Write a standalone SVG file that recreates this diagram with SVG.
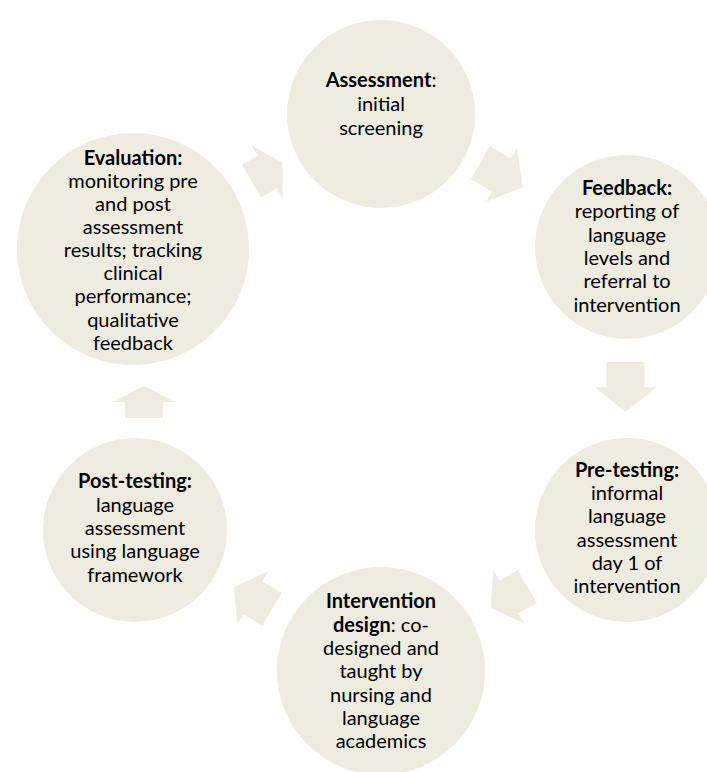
<svg xmlns="http://www.w3.org/2000/svg" width="707" height="772" viewBox="0 0 707 772">
<style>
.c{fill:#EEECE1}
.a{fill:#EEECE1}
text{font-family:Lato,"Liberation Sans",sans-serif;font-size:20px;fill:#000;text-anchor:middle}
.b{font-weight:bold}
</style>
<g id="connectors">
<path class="a" transform="translate(267,172) rotate(-30)" d="M-18,-19 L0,-19 L0,-31 L18,0 L0,31 L0,19 L-18,19 Z"/>
<path class="a" transform="translate(501.5,175) rotate(30)" d="M-24.5,-19 L0,-19 L0,-31 L24.5,0 L0,31 L0,19 L-24.5,19 Z"/>
<path class="a" transform="translate(625.5,387) rotate(90)" d="M-25,-19 L0,-19 L0,-31 L25,0 L0,31 L0,19 L-25,19 Z"/>
<path class="a" transform="translate(509,597) rotate(150)" d="M-21,-19 L0,-19 L0,-31 L21,0 L0,31 L0,19 L-21,19 Z"/>
<path class="a" transform="translate(253,598) rotate(-150)" d="M-22,-19 L0,-19 L0,-31 L22,0 L0,31 L0,19 L-22,19 Z"/>
<path class="a" transform="translate(144,402) rotate(-90)" d="M-16,-19 L0,-19 L0,-31 L16,0 L0,31 L0,19 L-16,19 Z"/>
</g>
<g id="assessment">
<circle class="c" cx="381" cy="114" r="94"/>
<text x="381" y="87"><tspan class="b">Assessment</tspan>:</text>
<text x="381" y="111">initial</text>
<text x="381" y="135">screening</text>
</g>
<g id="feedback">
<circle class="c" cx="627" cy="247" r="92"/>
<text x="627" y="195" class="b">Feedback:</text>
<text x="627" y="218">reporting of</text>
<text x="627" y="242">language</text>
<text x="627" y="265">levels and</text>
<text x="627" y="288">referral to</text>
<text x="627" y="312">intervention</text>
</g>
<g id="pretesting">
<circle class="c" cx="627" cy="530" r="92"/>
<text x="627" y="477" class="b">Pre-testing:</text>
<text x="627" y="500">informal</text>
<text x="627" y="523">language</text>
<text x="627" y="547">assessment</text>
<text x="627" y="570">day 1 of</text>
<text x="627" y="593">intervention</text>
</g>
<g id="intervention">
<circle class="c" cx="381" cy="671" r="104"/>
<text x="381" y="608" class="b">Intervention</text>
<text x="381" y="632"><tspan class="b">design</tspan>: co-</text>
<text x="381" y="655">designed and</text>
<text x="381" y="678">taught by</text>
<text x="381" y="702">nursing and</text>
<text x="381" y="725">language</text>
<text x="381" y="748">academics</text>
</g>
<g id="posttesting">
<circle class="c" cx="135" cy="530" r="92"/>
<text x="135" y="488" class="b">Post-testing:</text>
<text x="135" y="512">language</text>
<text x="135" y="535">assessment</text>
<text x="135" y="558">using language</text>
<text x="135" y="582">framework</text>
</g>
<g id="evaluation">
<circle class="c" cx="133" cy="249" r="116"/>
<text x="133" y="165" class="b">Evaluation:</text>
<text x="133" y="188">monitoring pre</text>
<text x="133" y="211">and post</text>
<text x="133" y="234">assessment</text>
<text x="133" y="257">results; tracking</text>
<text x="133" y="280">clinical</text>
<text x="133" y="303">performance;</text>
<text x="133" y="327">qualitative</text>
<text x="133" y="350">feedback</text>
</g>
</svg>
